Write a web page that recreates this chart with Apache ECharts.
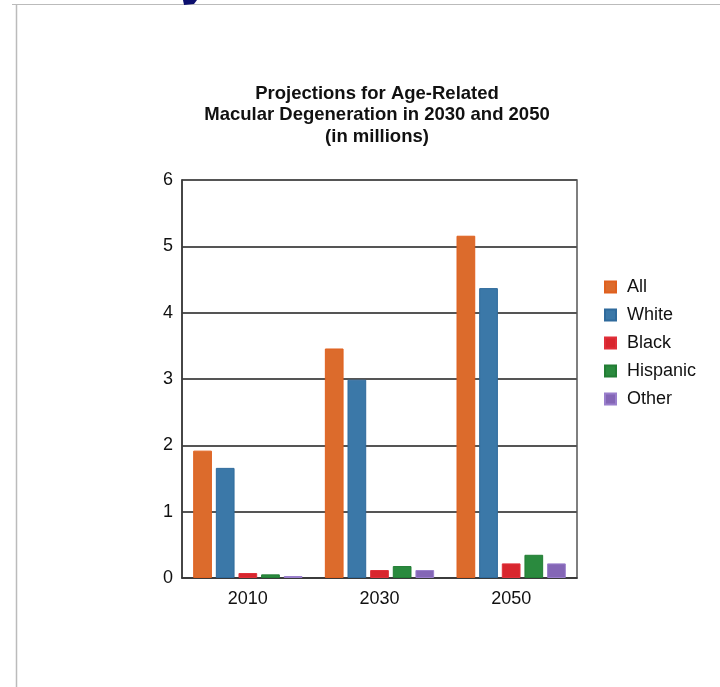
<!DOCTYPE html>
<html>
<head>
<meta charset="utf-8">
<script src="https://cdn.jsdelivr.net/npm/echarts@6/dist/echarts.min.js"></script>
<style>
  html, body { margin: 0; padding: 0; background: #fff; }
  #chart { width: 720px; height: 687px; }
</style>
</head>
<body>
<div id="chart"></div>
<script>
  // categories and values (millions)
  var years = ['2010', '2030', '2050'];
  var allData = [1.92, 3.46, 5.16];
  var whiteData = [1.66, 2.99, 4.37];
  var blackData = [0.075, 0.12, 0.22];
  var hispanicData = [0.055, 0.18, 0.35];
  var otherData = [0.03, 0.12, 0.22];
  var yTicks = [0, 1, 2, 3, 4, 5, 6];

  var chart = echarts.init(document.getElementById('chart'));

  function bar(name, data, fill, edge) {
    return {
      name: name,
      type: 'bar',
      data: data,
      barGap: '21%',
      barCategoryGap: '17%',
      itemStyle: { color: fill, borderColor: edge, borderWidth: 1 }
    };
  }

  chart.setOption({
    animation: false,
    textStyle: { fontFamily: 'Liberation Sans, Arial, sans-serif' },
    title: {
      text: 'Projections for Age-Related\nMacular Degeneration in 2030 and 2050\n(in millions)',
      left: 372,
      top: 78,
      textAlign: 'center',
      textStyle: { fontSize: 18.5, fontWeight: 'bold', color: '#111', lineHeight: 21.5 }
    },
    legend: {
      orient: 'vertical',
      left: 599,
      top: 273,
      itemWidth: 11,
      itemHeight: 11,
      itemGap: 10,
      icon: 'rect',
      textStyle: { fontSize: 18, color: '#111', padding: [0, 0, 0, 6] },
      data: ['All', 'White', 'Black', 'Hispanic', 'Other']
    },
    grid: {
      left: 182, right: 143, top: 180, bottom: 109,
      show: true, borderColor: '#555', borderWidth: 1.5
    },
    xAxis: {
      type: 'category',
      data: years,
      axisLine: { lineStyle: { color: '#333', width: 1.5 } },
      axisTick: { inside: true, length: 9, lineStyle: { color: '#777' } },
      axisLabel: { fontSize: 18, color: '#111', margin: 12 }
    },
    yAxis: {
      type: 'value',
      min: yTicks[0],
      max: yTicks[yTicks.length - 1],
      interval: 1,
      axisLine: { show: true, lineStyle: { color: '#333', width: 1.5 } },
      axisTick: { show: false },
      axisLabel: { fontSize: 18, color: '#111', margin: 9, padding: [9, 0, 0, 0] },
      splitLine: { lineStyle: { color: '#555', width: 1.8 } }
    },
    graphic: [
      { type: 'line', shape: { x1: 12, y1: 4.5, x2: 720, y2: 4.5 }, style: { stroke: '#bbb', lineWidth: 1 } },
      { type: 'line', shape: { x1: 16.5, y1: 4, x2: 16.5, y2: 687 }, style: { stroke: '#bbb', lineWidth: 1.5 } },
      { type: 'polygon', shape: { points: [[183, 0], [197, 0], [194, 4], [184, 5]] }, style: { fill: '#0c0f6e' } }
    ],
    series: [
      bar('All', allData, '#dc6b2c', '#e0601e'),
      bar('White', whiteData, '#3b78a8', '#2f6a9c'),
      bar('Black', blackData, '#d8262e', '#e0303a'),
      bar('Hispanic', hispanicData, '#2a8a3e', '#227d34'),
      bar('Other', otherData, '#8466b6', '#9a7fcc')
    ]
  });
</script>
</body>
</html>
